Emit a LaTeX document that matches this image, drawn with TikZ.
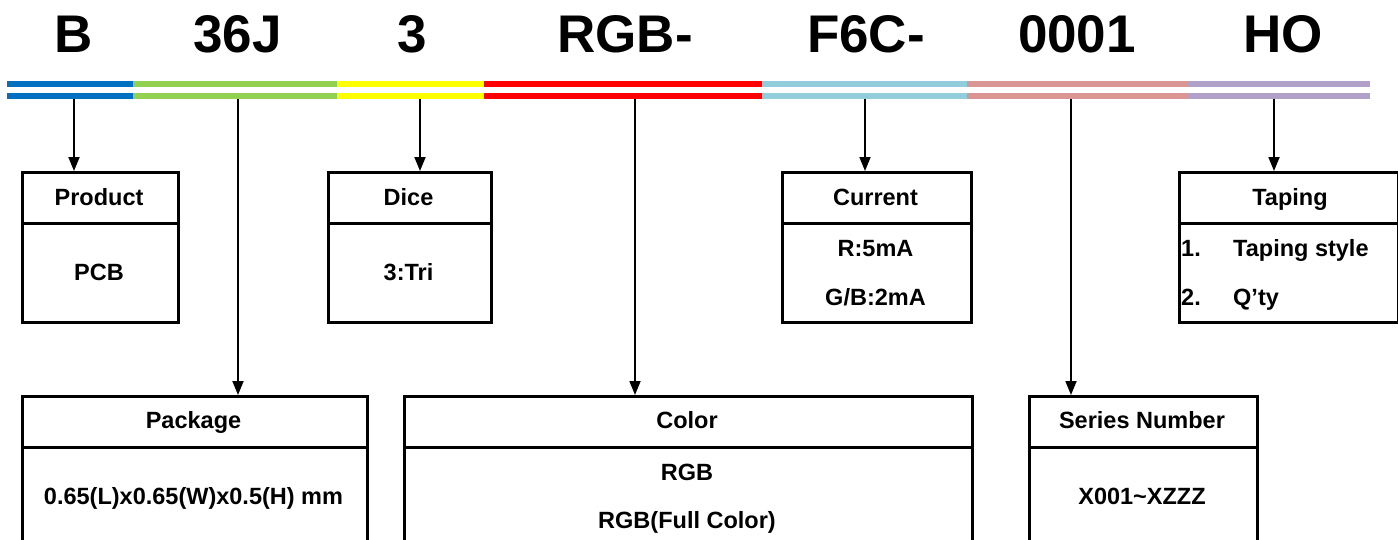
\documentclass[tikz,border=0pt]{standalone}
\usepackage{fontspec}
\setmainfont{Liberation Sans}
\usetikzlibrary{arrows.meta}
\definecolor{cBlue}{HTML}{0070C0}
\definecolor{cGreen}{HTML}{92D050}
\definecolor{cYellow}{HTML}{FFFF00}
\definecolor{cRed}{HTML}{FF0000}
\definecolor{cLBlue}{HTML}{92CDDC}
\definecolor{cPink}{HTML}{DA9694}
\definecolor{cPurple}{HTML}{B1A0C7}
\newcommand\codefont{\fontsize{53}{60}\selectfont\bfseries}
\newcommand\boxfont{\fontsize{23.5}{28}\selectfont\bfseries}
\begin{document}
\begin{tikzpicture}[x=1pt,y=-1pt,
  cell/.style={draw, line width=2.6pt, inner sep=0pt, anchor=north west},
  lbl/.style={inner sep=0pt, anchor=base, font=\boxfont},
  lblw/.style={inner sep=0pt, anchor=base west, font=\boxfont},
  code/.style={inner sep=0pt, anchor=base, font=\codefont},
  arr/.style={line width=1.8pt, -{Triangle[width=11pt,length=14pt]}}]
\useasboundingbox (0,0) rectangle (1398,539);
\clip (0,0) rectangle (1398,539);
% code letters
\node[code] (cB) at (74,52) {B};
\node[code] (c36J) at (237.5,52) {36J};
\node[code] (c3) at (412,52) {3};
\node[code] (cRGB) at (625,52) {RGB-};
\node[code] (cF6C) at (866,52) {F6C-};
\node[code] (c0001) at (1077,52) {0001};
\node[code] (cHO) at (1283,52) {HO};
% colour bars
\foreach \a/\b/\c in {7/133/cBlue,133/337/cGreen,337/484/cYellow,484/762/cRed,762/967/cLBlue,967/1188/cPink,1188/1370/cPurple}{
  \fill[\c] (\a,81) rectangle (\b,87);
  \fill[\c] (\a,93) rectangle (\b,99);
}
% top row boxes
\node[cell, minimum width=156, minimum height=51] (prodH) at (21,171) {};
\node[cell, minimum width=156, minimum height=99] (prodB) at (21,222) {};
\node[cell, minimum width=163, minimum height=51] (diceH) at (327,171) {};
\node[cell, minimum width=163, minimum height=99] (diceB) at (327,222) {};
\node[cell, minimum width=189, minimum height=51] (curH) at (781,171) {};
\node[cell, minimum width=189, minimum height=99] (curB) at (781,222) {};
\node[cell, minimum width=219, minimum height=51] (tapH) at (1178,171) {};
\node[cell, minimum width=219, minimum height=99] (tapB) at (1178,222) {};
% bottom row boxes
\node[cell, minimum width=345, minimum height=51] (pkgH) at (21,395) {};
\node[cell, minimum width=345, minimum height=120] (pkgB) at (21,446) {};
\node[cell, minimum width=568, minimum height=51] (colH) at (403,395) {};
\node[cell, minimum width=568, minimum height=120] (colB) at (403,446) {};
\node[cell, minimum width=228, minimum height=51] (serH) at (1028,395) {};
\node[cell, minimum width=228, minimum height=120] (serB) at (1028,446) {};
% labels
\node[lbl] (tProd) at (99,205.4) {Product};
\node[lbl] (tPCB) at (99,280.4) {PCB};
\node[lbl] (tDice) at (408.5,205.4) {Dice};
\node[lbl] (tTri) at (408.5,280.4) {3:Tri};
\node[lbl] (tCur) at (875.5,205.4) {Current};
\node[lbl] (tR) at (875.5,256.4) {R:5mA};
\node[lbl] (tGB) at (875.5,305.4) {G/B:2mA};
\node[lbl] (tTap) at (1290,205.4) {Taping};
\node[lblw] (tN1) at (1181,256.4) {1.};
\node[lblw] (tTS) at (1233,256.4) {Taping style};
\node[lblw] (tN2) at (1181,305.4) {2.};
\node[lblw] (tQ) at (1233,305.4) {Q’ty};
\node[lbl] (tPkg) at (193.5,428.4) {Package};
\node[lbl] (tDim) at (193.5,504.4) {0.65(L)x0.65(W)x0.5(H) mm};
\node[lbl] (tCol) at (687,428.4) {Color};
\node[lbl] (tRGB) at (687,480.4) {RGB};
\node[lbl] (tFull) at (687,528.4) {RGB(Full Color)};
\node[lbl] (tSer) at (1142,428.4) {Series Number};
\node[lbl] (tX) at (1142,504.4) {X001\char`~XZZZ};
% arrows
\coordinate (pB) at (74,99);
\coordinate (p36J) at (238,99);
\coordinate (p3) at (420,99);
\coordinate (pRGB) at (635,99);
\coordinate (pF6C) at (865,99);
\coordinate (p0001) at (1071,99);
\coordinate (pHO) at (1274,99);
\draw[arr] (pB) -- (pB |- prodH.north);
\draw[arr] (p36J) -- (p36J |- pkgH.north);
\draw[arr] (p3) -- (p3 |- diceH.north);
\draw[arr] (pRGB) -- (pRGB |- colH.north);
\draw[arr] (pF6C) -- (pF6C |- curH.north);
\draw[arr] (p0001) -- (p0001 |- serH.north);
\draw[arr] (pHO) -- (pHO |- tapH.north);
\end{tikzpicture}
\end{document}
